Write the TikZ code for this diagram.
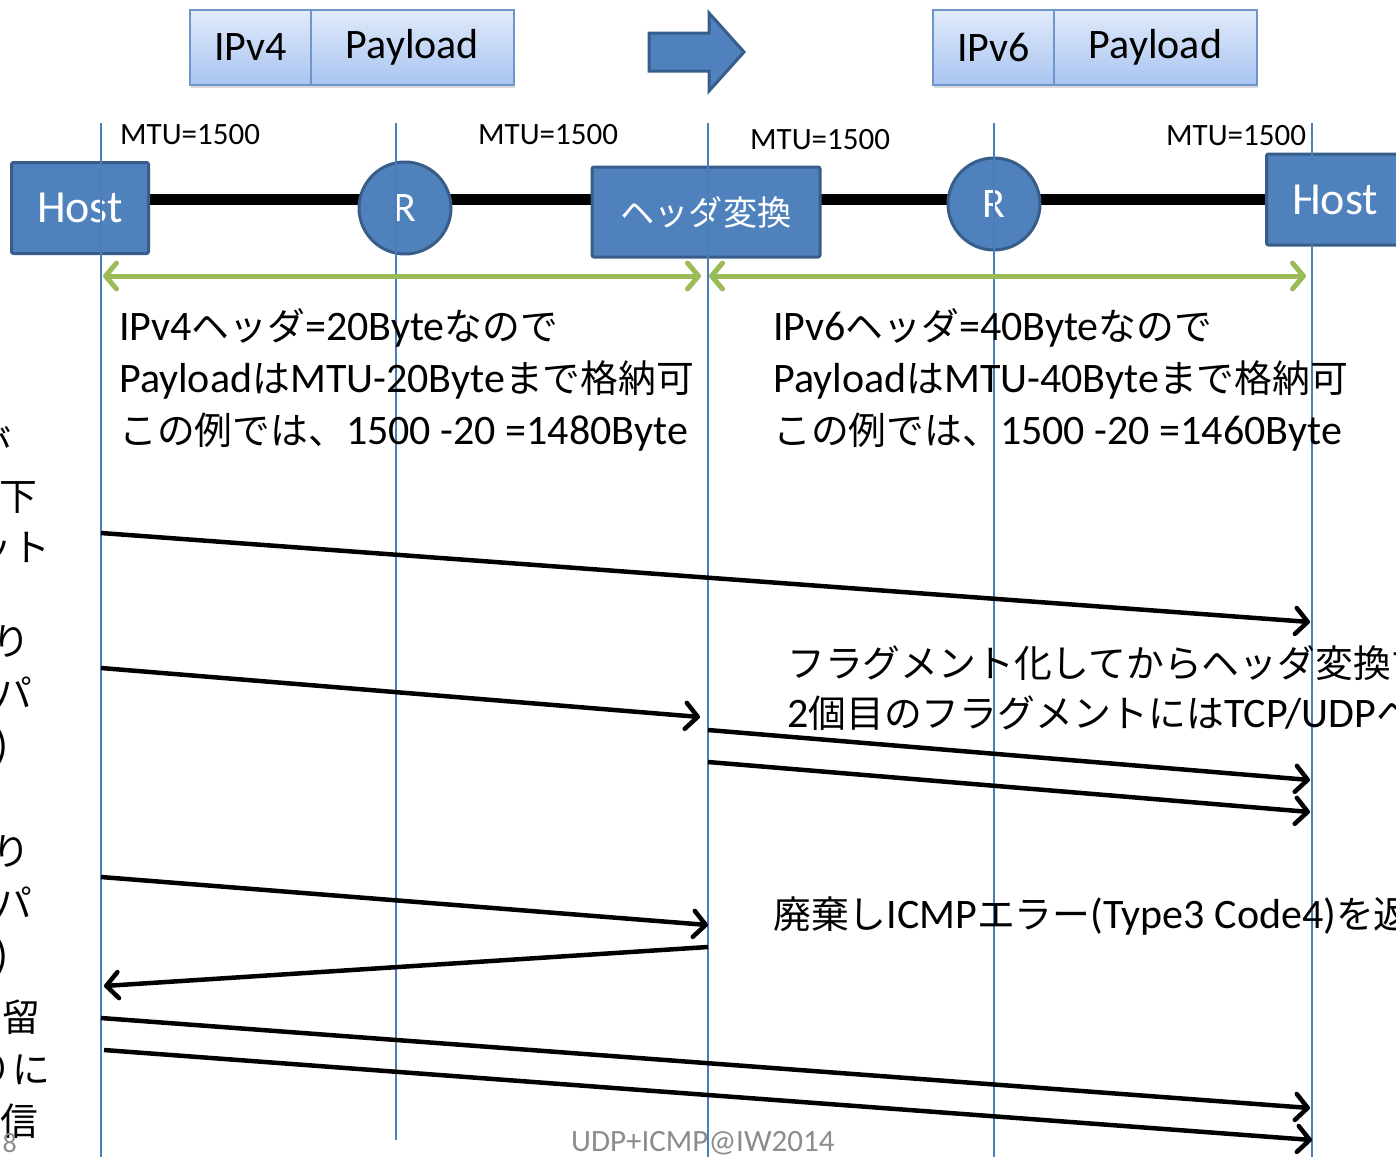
\documentclass[tikz,border=0pt]{standalone}
\usepackage{fontspec}
\setmainfont{Carlito}
\newfontfamily\jp{Noto Sans CJK JP}[Scale=0.9]
\usetikzlibrary{arrows.meta,shadows,backgrounds}

\definecolor{nodeblue}{HTML}{4F81BD}
\definecolor{nodeedge}{HTML}{385D8A}
\definecolor{lifeblue}{HTML}{4A7EBB}
\definecolor{rangegreen}{HTML}{9BBB59}
\definecolor{pkttop}{HTML}{E0EAFA}
\definecolor{pktbot}{HTML}{A9C5F1}
\definecolor{pktedge}{HTML}{6F95CB}
\definecolor{footgray}{HTML}{8C8C8C}

\newcommand\fsz[1]{\fontsize{#1}{#1}\selectfont}

\tikzset{
  pkt/.style={draw=pktedge, line width=1.5pt, top color=pkttop, bottom color=pktbot,
    minimum height=75pt, inner sep=0pt, font=\fsz{42},
    drop shadow={opacity=0.3, shadow xshift=1pt, shadow yshift=-3pt}},
  device/.style={draw=nodeedge, fill=nodeblue, line width=3pt, rounded corners=2pt,
    text=white, inner sep=0pt},
  router/.style={circle, draw=nodeedge, fill=nodeblue, line width=3pt, text=white,
    minimum size=92pt, inner sep=0pt, font=\fsz{42}},
  netlink/.style={line width=11pt, black},
  lifeline/.style={lifeblue, line width=1.5pt},
  rangearrow/.style={rangegreen, line width=5pt,
    {Straight Barb[round,length=11pt,width=26pt]}-{Straight Barb[round,length=11pt,width=26pt]}},
  msg/.style={black, line width=4.5pt, -{Straight Barb[round,length=12pt,width=26pt]}},
  lbl/.style={inner sep=0pt, anchor=base west},
  cut/.style={inner sep=0pt, anchor=base east},
  body/.style={font=\fsz{42}},
  jbody/.style={font=\jp\fsz{42}},
}

\begin{document}
\begin{tikzpicture}[x=1pt,y=-1pt]
\useasboundingbox (0,0) rectangle (1396,1157);
\clip (0,0) rectangle (1396,1157);

% packet formats before and after translation
\node[pkt, minimum width=121pt] (v4hdr) at (250.5,47.5) {IPv4};
\node[pkt, minimum width=203pt] (v4pay) at (412.5,47.5) {Payload};
\node[pkt, minimum width=121pt] (v6hdr) at (993.5,47.5) {IPv6};
\node[pkt, minimum width=203pt] (v6pay) at (1155.5,47.5) {Payload};

% block arrow between the two formats
\draw[fill=nodeblue, draw=nodeedge, line width=3pt, line join=miter]
  (649,33) -- (709,33) -- (709,13) -- (744,52) -- (709,91) -- (709,71) -- (649,71) -- cycle;

% network path
\node[device, minimum width=137pt, minimum height=91pt, font=\fsz{46}] (hostL) at (80,208) {Host};
\node[router] (r1) at (405,208) {R};
\node[device, minimum width=228pt, minimum height=90pt, font=\jp\fsz{38}] (xlat) at (706,212) {ヘッダ変換};
\node[router] (r2) at (994,204) {R};
\node[device, minimum width=137pt, minimum height=91pt, font=\fsz{46}] (hostR) at (1335,199.5) {Host};

\coordinate (bus) at (0,199);
\begin{scope}[on background layer]
  \draw[netlink] (hostL.center |- bus) -- (hostR.center |- bus);
\end{scope}

% MTU of each segment
\node[lbl, font=\fsz{31}] (mtu1) at (120,144) {MTU=1500};
\node[lbl, font=\fsz{31}] (mtu2) at (478,144) {MTU=1500};
\node[lbl, font=\fsz{31}] (mtu3) at (750,149) {MTU=1500};
\node[lbl, font=\fsz{31}] (mtu4) at (1166,145) {MTU=1500};

% lifelines
\foreach \n/\x/\yb in {a/101/1157, b/396/1140, c/708/1157, d/994/1157, e/1312/1157} {
  \coordinate (\n top) at (\x,123);
  \coordinate (\n bot) at (\x,\yb);
  \draw[lifeline] (\n top) -- (\n bot);
}

% IPv4 / IPv6 segments
\coordinate (g1a) at (103,276);
\coordinate (g1b) at (701,276);
\coordinate (g2a) at (709,276);
\coordinate (g2b) at (1306,276);
\draw[rangearrow] (g1a) -- (g1b);
\draw[rangearrow] (g2a) -- (g2b);

\node[lbl, body] (v4a) at (119,340) {IPv4{\jp ヘッダ}=20Byte{\jp なので}};
\node[lbl, body] (v4b) at (119,392) {Payload{\jp は}MTU-20Byte{\jp まで格納可}};
\node[lbl, body] (v4c) at (119,444) {{\jp この例では、}1500 -20 =1480Byte};
\node[lbl, body] (v6a) at (773,340) {IPv6{\jp ヘッダ}=40Byte{\jp なので}};
\node[lbl, body] (v6b) at (773,392) {Payload{\jp は}MTU-40Byte{\jp まで格納可}};
\node[lbl, body] (v6c) at (773,444) {{\jp この例では、}1500 -20 =1460Byte};

% left column
\node[cut, jbody] (c1) at (12,458) {が};
\node[cut, jbody] (c2) at (37,510) {下};
\node[cut, jbody] (c3) at (50,561) {ット};
\node[cut, jbody] (c4) at (30,655) {り};
\node[cut, jbody] (c5) at (32,707) {パ};
\node[cut, body] (c6) at (8,759) {)};
\node[cut, jbody] (c7) at (30,865) {り};
\node[cut, jbody] (c8) at (32,917) {パ};
\node[cut, body] (c9) at (8,969) {)};
\node[cut, jbody] (c10) at (40,1031) {留};
\node[cut, jbody] (c11) at (50,1083) {りに};
\node[cut, jbody] (c12) at (38,1135) {信};

% packet exchanges
\coordinate (m1a) at (101,533);  \coordinate (m1b) at (1310,622);
\coordinate (m2a) at (101,668);  \coordinate (m2b) at (700,717);
\coordinate (m3a) at (708,730);  \coordinate (m3b) at (1310,780);
\coordinate (m4a) at (708,762);  \coordinate (m4b) at (1310,812);
\coordinate (m5a) at (101,877);  \coordinate (m5b) at (708,925);
\coordinate (m6a) at (708,947);  \coordinate (m6b) at (104,986);
\coordinate (m7a) at (101,1018); \coordinate (m7b) at (1310,1108);
\coordinate (m8a) at (104,1050); \coordinate (m8b) at (1312,1140);
\foreach \k in {1,...,8} { \draw[msg] (m\k a) -- (m\k b); }

\node[lbl, body] (frag1) at (787,677) {{\jp フラグメント化してからヘッダ変換す}};
\node[lbl, body] (frag2) at (787,727) {2{\jp 個目のフラグメントには}TCP/UDP{\jp ヘ}};
\node[lbl, body] (drop) at (773,928) {{\jp 廃棄し}ICMP{\jp エラー}(Type3 Code4){\jp を返}};

% footer
\node[lbl, font=\fsz{31}, text=footgray] (foot) at (571,1151) {UDP+ICMP@IW2014};
\node[cut, font=\fsz{28}, text=footgray] (pgno) at (17,1152) {8};
\end{tikzpicture}
\end{document}
